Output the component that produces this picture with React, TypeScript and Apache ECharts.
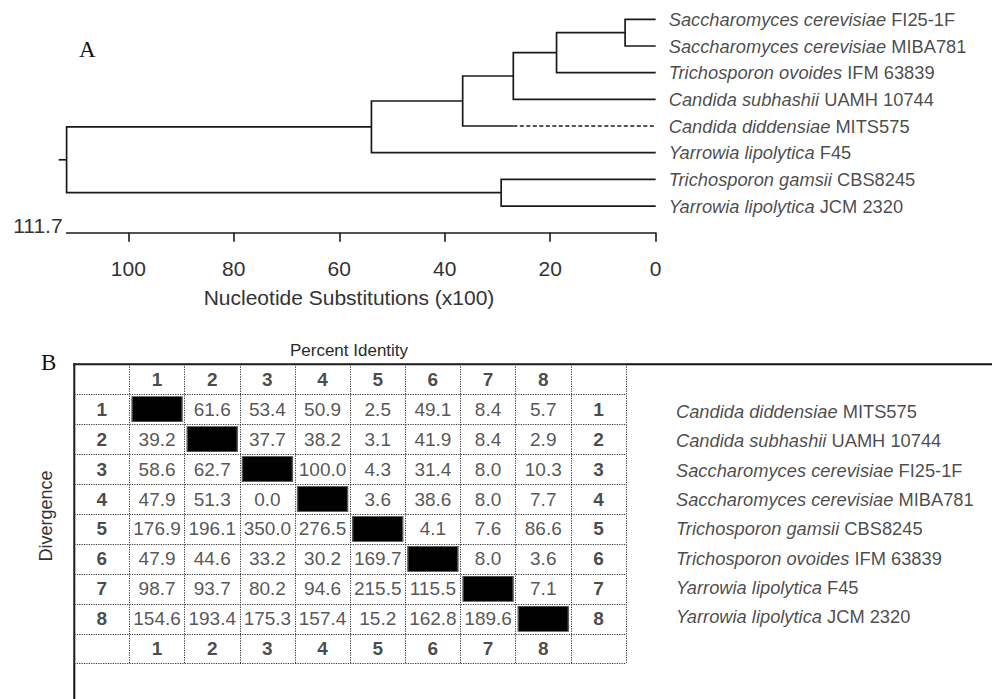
import React, { useEffect, useRef } from "react";
import * as echarts from "echarts";

// ---------- Panel A: dendrogram data ----------
const treeLeafSpecies = [
  "Saccharomyces cerevisiae",
  "Saccharomyces cerevisiae",
  "Trichosporon ovoides",
  "Candida subhashii",
  "Candida diddensiae",
  "Yarrowia lipolytica",
  "Trichosporon gamsii",
  "Yarrowia lipolytica",
];
const treeLeafStrains = ["FI25-1F", "MIBA781", "IFM 63839", "UAMH 10744", "MITS575", "F45", "CBS8245", "JCM 2320"];
// clusters: new node ids start at 8, each joins left + right at a height
const mergeLeft = [0, 8, 9, 10, 11, 6, 12];
const mergeRight = [1, 2, 3, 4, 5, 7, 13];
const mergeHeights = [5.8, 18.8, 27.0, 36.6, 53.9, 29.3, 111.7];
const dashedLeaf = 4;
const dashedFrom = 27.0;
const rootStub = 1.5;
const axisTickValues = [0, 20, 40, 60, 80, 100];
const axisMax = 111.7;

// ---------- Panel B: distance matrix ----------
const matrixRow1 = [null, 61.6, 53.4, 50.9, 2.5, 49.1, 8.4, 5.7];
const matrixRow2 = [39.2, null, 37.7, 38.2, 3.1, 41.9, 8.4, 2.9];
const matrixRow3 = [58.6, 62.7, null, 100.0, 4.3, 31.4, 8.0, 10.3];
const matrixRow4 = [47.9, 51.3, 0.0, null, 3.6, 38.6, 8.0, 7.7];
const matrixRow5 = [176.9, 196.1, 350.0, 276.5, null, 4.1, 7.6, 86.6];
const matrixRow6 = [47.9, 44.6, 33.2, 30.2, 169.7, null, 8.0, 3.6];
const matrixRow7 = [98.7, 93.7, 80.2, 94.6, 215.5, 115.5, null, 7.1];
const matrixRow8 = [154.6, 193.4, 175.3, 157.4, 15.2, 162.8, 189.6, null];
const matrixHeaders = ["1", "2", "3", "4", "5", "6", "7", "8"];
const matrixSpecies = [
  "Candida diddensiae",
  "Candida subhashii",
  "Saccharomyces cerevisiae",
  "Saccharomyces cerevisiae",
  "Trichosporon gamsii",
  "Trichosporon ovoides",
  "Yarrowia lipolytica",
  "Yarrowia lipolytica",
];
const matrixStrains = ["MITS575", "UAMH 10744", "FI25-1F", "MIBA781", "CBS8245", "IFM 63839", "F45", "JCM 2320"];

const SANS = '"Liberation Sans", Arial, sans-serif';
const SERIF = '"Liberation Serif", "Times New Roman", serif';

function buildTree() {
  const nx: number[] = [];
  const ny: number[] = [];
  for (let i = 0; i < treeLeafSpecies.length; i++) {
    nx[i] = 0;
    ny[i] = i;
  }
  const lines: any[] = [];
  mergeHeights.forEach((h, k) => {
    const id = treeLeafSpecies.length + k;
    const a = mergeLeft[k];
    const b = mergeRight[k];
    nx[id] = h;
    ny[id] = (ny[a] + ny[b]) / 2;
    const ax = a === dashedLeaf ? dashedFrom : nx[a];
    const bx = b === dashedLeaf ? dashedFrom : nx[b];
    lines.push({ coords: [[ax, ny[a]], [h, ny[a]], [h, ny[b]], [bx, ny[b]]] });
  });
  lines.push({
    coords: [[dashedFrom, ny[dashedLeaf]], [0, ny[dashedLeaf]]],
    lineStyle: { type: [4, 2.5] },
  });
  const root = nx.length - 1;
  lines.push({ coords: [[nx[root], ny[root]], [nx[root] + rootStub, ny[root]]] });
  return lines;
}

export default function App() {
  const ref = useRef<HTMLDivElement>(null);
  useEffect(() => {
    if (!ref.current) return;
    const chart = echarts.init(ref.current, undefined, { renderer: "svg" });
    const rows = [matrixRow1, matrixRow2, matrixRow3, matrixRow4, matrixRow5, matrixRow6, matrixRow7, matrixRow8];
    const valueCells: any[] = [];
    const blackCells: any[] = [];
    rows.forEach((row, r) => {
      row.forEach((v, c) => {
        if (v === null) blackCells.push([c + 1, r + 1]);
        else valueCells.push({ value: [c + 1, r + 1], text: (v as number).toFixed(1) });
      });
    });
    const headerCells: any[] = [];
    matrixHeaders.forEach((h, i) => {
      headerCells.push({ value: [i + 1, 0], text: h });
      headerCells.push({ value: [i + 1, 9], text: h });
      headerCells.push({ value: [0, i + 1], text: h });
      headerCells.push({ value: [9, i + 1], text: h });
    });
    const cats = ["h0", ...matrixHeaders, "h9"];
    const dotted = { show: true, interval: 0, lineStyle: { type: [1.2, 1.2], color: "#333", width: 1 } };

    const richA = {
      sp: { fontFamily: SANS, fontStyle: "italic", fontSize: 18.3, color: "#1a1a1a" },
      st: { fontFamily: SANS, fontSize: 18.3, color: "#1a1a1a" },
    };

    chart.setOption({
      animation: false,
      backgroundColor: "#fff",
      grid: [
        { left: 66.6, top: 6, width: 589.1, height: 226.7 },
        { left: 74.3, top: 364.3, width: 551.7, height: 299.4 },
        { left: 676, top: 397, width: 300, height: 234.4 },
      ],
      xAxis: [
        {
          gridIndex: 0,
          type: "value",
          inverse: true,
          min: 0,
          max: axisMax,
          position: "bottom",
          name: String(axisMax),
          nameLocation: "end",
          nameGap: 4,
          nameTextStyle: { fontFamily: SANS, fontSize: 21, color: "#333", align: "right", verticalAlign: "bottom", lineHeight: 14 },
          axisLine: { show: true, onZero: false, lineStyle: { color: "#1a1a1a", width: 1.6 } },
          axisTick: { show: true, length: 9, customValues: axisTickValues, lineStyle: { color: "#1a1a1a", width: 1.6 } },
          axisLabel: { customValues: axisTickValues, fontFamily: SANS, fontSize: 21, color: "#333", margin: 25 },
          splitLine: { show: false },
        },
        {
          gridIndex: 1,
          type: "category",
          data: cats,
          boundaryGap: true,
          axisLine: { show: false },
          axisTick: { show: false },
          axisLabel: { show: false },
          splitLine: dotted,
        },
        { gridIndex: 2, type: "value", min: 0, max: 1, show: false },
      ],
      yAxis: [
        { gridIndex: 0, type: "value", min: -0.5, max: 8, inverse: true, show: false },
        {
          gridIndex: 1,
          type: "category",
          data: cats,
          inverse: true,
          boundaryGap: true,
          axisLine: { show: false },
          axisTick: { show: false },
          axisLabel: { show: false },
          splitLine: dotted,
        },
        { gridIndex: 2, type: "category", data: matrixSpecies.map((_, i) => "s" + i), inverse: true, show: false },
      ],
      series: [
        {
          type: "lines",
          coordinateSystem: "cartesian2d",
          xAxisIndex: 0,
          yAxisIndex: 0,
          polyline: true,
          silent: true,
          clip: false,
          lineStyle: { color: "#1a1a1a", width: 1.7, opacity: 1 },
          data: buildTree(),
        },
        {
          type: "scatter",
          xAxisIndex: 0,
          yAxisIndex: 0,
          symbolSize: 0,
          data: treeLeafSpecies.map((_, i) => [0, i]),
          label: {
            show: true,
            position: "right",
            distance: 13,
            formatter: (p: any) => `{sp|${treeLeafSpecies[p.dataIndex]}}{st| ${treeLeafStrains[p.dataIndex]}}`,
            rich: richA,
          },
        },
        {
          type: "scatter",
          xAxisIndex: 1,
          yAxisIndex: 1,
          symbol: "rect",
          symbolSize: [50, 25],
          itemStyle: { color: "#000", borderColor: "#555", borderWidth: 1, opacity: 1 },
          data: blackCells,
        },
        {
          type: "scatter",
          xAxisIndex: 1,
          yAxisIndex: 1,
          symbolSize: 0,
          data: valueCells,
          label: {
            show: true,
            position: "inside",
            formatter: (p: any) => p.data.text,
            fontFamily: SANS,
            fontSize: 19,
            color: "#2a2a2a",
          },
        },
        {
          type: "scatter",
          xAxisIndex: 1,
          yAxisIndex: 1,
          symbolSize: 0,
          data: headerCells,
          label: {
            show: true,
            position: "inside",
            formatter: (p: any) => p.data.text,
            fontFamily: SANS,
            fontSize: 19,
            fontWeight: "bold",
            color: "#1a1a1a",
          },
        },
        {
          type: "scatter",
          xAxisIndex: 2,
          yAxisIndex: 2,
          symbolSize: 0,
          data: matrixSpecies.map((_, i) => [0, i]),
          label: {
            show: true,
            position: "right",
            distance: 0,
            formatter: (p: any) => `{sp|${matrixSpecies[p.dataIndex]}}{st| ${matrixStrains[p.dataIndex]}}`,
            rich: richA,
          },
        },
      ],
      graphic: [
        { type: "text", left: 79, top: 38, style: { text: "A", font: `23px ${SERIF}`, fill: "#111" } },
        { type: "text", left: 41, top: 351, style: { text: "B", font: `23px ${SERIF}`, fill: "#111" } },
        {
          type: "text",
          x: 349,
          y: 297,
          style: { text: "Nucleotide Substitutions (x100)", font: `21px ${SANS}`, fill: "#333", align: "center", verticalAlign: "middle" },
        },
        {
          type: "text",
          x: 349,
          y: 350,
          style: { text: "Percent Identity", font: `17px ${SANS}`, fill: "#2a2a2a", align: "center", verticalAlign: "middle" },
        },
        {
          type: "text",
          x: 46,
          y: 516,
          rotation: Math.PI / 2,
          style: { text: "Divergence", font: `18px ${SANS}`, fill: "#333", align: "center", verticalAlign: "middle" },
        },
        { type: "line", shape: { x1: 73.3, y1: 364.3, x2: 992, y2: 364.3 }, style: { stroke: "#111", lineWidth: 2 } },
        { type: "line", shape: { x1: 74.3, y1: 363.3, x2: 74.3, y2: 699 }, style: { stroke: "#111", lineWidth: 2 } },
      ],
    });
    return () => chart.dispose();
  }, []);
  return <div ref={ref} style={{ position: "absolute", left: 0, top: 0, width: 992, height: 699 }} />;
}
